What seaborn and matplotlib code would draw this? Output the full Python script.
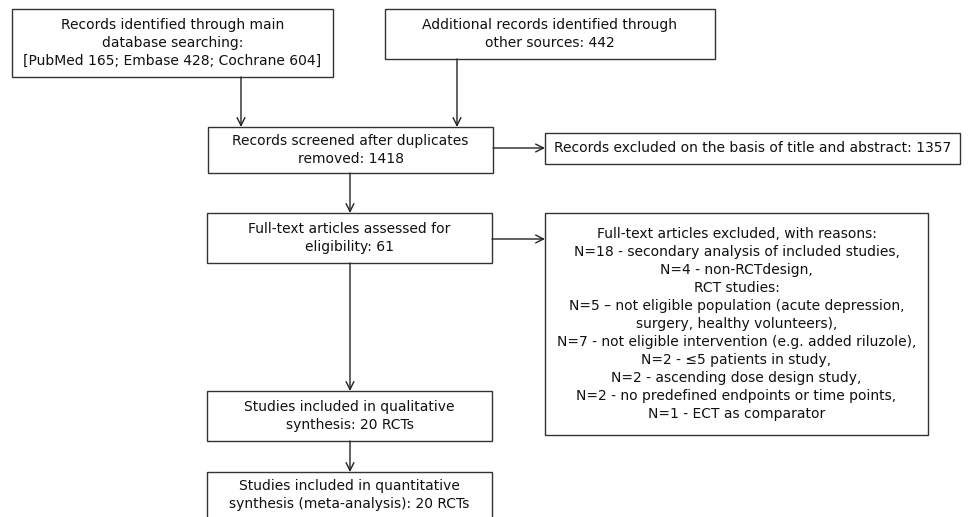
import matplotlib
matplotlib.use("Agg")
import matplotlib.pyplot as plt
from matplotlib.patches import Rectangle
import seaborn as sns

# counts shown in the PRISMA flow
db_sources = ["PubMed", "Embase", "Cochrane"]
db_counts = [165, 428, 604]
other_sources = 442
screened = 1418
excluded_title = 1357
fulltext = 61
excl_counts = [18, 4, 5, 7, 2, 2, 2, 1]
excl_reasons = [
    "secondary analysis of included studies,",
    "non-RCTdesign,",
    "not eligible population (acute depression,\nsurgery, healthy volunteers),",
    "not eligible intervention (e.g. added riluzole),",
    "\u22645 patients in study,",
    "ascending dose design study,",
    "no predefined endpoints or time points,",
    "ECT as comparator",
]
qualitative = 20
quantitative = 20

sns.set_theme(style="white")
plt.rcParams['font.family'] = ['DejaVu Sans']

fig = plt.figure(figsize=(9.71, 5.17), dpi=100)
ax = fig.add_axes([0, 0, 1, 1])
ax.set_xlim(0, 971)
ax.set_ylim(517, 0)
ax.axis("off")

EDGE = "#333333"
FS = 10
LS = 1.36


def box(x0, y0, x1, y1, text, ty=None):
    ax.add_patch(Rectangle((x0, y0), x1 - x0, y1 - y0, fill=False,
                           edgecolor=EDGE, linewidth=1.0, clip_on=False))
    if ty is None:
        ax.text((x0 + x1) / 2, (y0 + y1) / 2, text, ha="center", va="center",
                fontsize=FS, color="#111111", linespacing=LS)
    else:
        ax.text((x0 + x1) / 2, ty, text, ha="center", va="top",
                fontsize=FS, color="#111111", linespacing=LS)


def arrow(x0, y0, x1, y1):
    ax.annotate("", xy=(x1, y1), xytext=(x0, y0),
                arrowprops=dict(arrowstyle="->", color="#222222", lw=1.0,
                                mutation_scale=14, shrinkA=0, shrinkB=0))


db_text = "; ".join(f"{s} {c}" for s, c in zip(db_sources, db_counts))
box(12, 9, 333, 77, "Records identified through main\ndatabase searching:\n[" + db_text + "]")
box(385, 9, 715, 59, f"Additional records identified through\nother sources: {other_sources}")
box(208, 127, 493, 173, f"Records screened after duplicates\nremoved: {screened}")
box(545, 133, 960, 164, f"Records excluded on the basis of title and abstract: {excluded_title}")
box(207, 213, 492, 263, f"Full-text articles assessed for\neligibility: {fulltext}")

lines = ["Full-text articles excluded, with reasons:"]
for i, (n, r) in enumerate(zip(excl_counts, excl_reasons)):
    if i == 2:
        lines.append("RCT studies:")
    dash = "\u2013" if i == 2 else "-"
    lines.append(f"N={n} {dash} {r}")
box(545, 213, 928, 435, "\n".join(lines))

box(207, 391, 492, 441, f"Studies included in qualitative\nsynthesis: {qualitative} RCTs")
box(207, 472, 492, 540, f"Studies included in quantitative\nsynthesis (meta-analysis): {quantitative} RCTs",
    ty=479)

arrow(241, 77, 241, 127)
arrow(457, 59, 457, 127)
arrow(493, 148, 545, 148)
arrow(350, 173, 350, 213)
arrow(492, 239, 545, 239)
arrow(350, 263, 350, 391)
arrow(350, 441, 350, 472)

fig.savefig("out.png", dpi=100)
